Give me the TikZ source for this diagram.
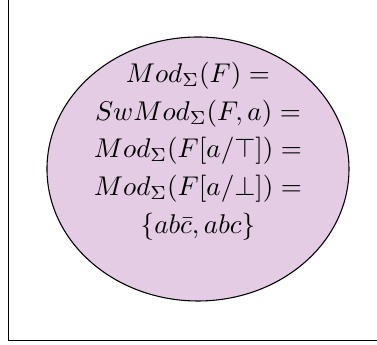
\documentclass[tikz,border=0pt]{standalone}
\usetikzlibrary{shapes.geometric,positioning}
\usepackage{amsmath,amssymb}

\begin{document}
\begin{tikzpicture}[
    frame/.style={draw, line width=0.4pt},
    modelset/.style={draw, ellipse, fill=violet!20, inner sep=0pt,
                     minimum width=3.917cm, minimum height=3.424cm},
    eqs/.style={align=center, inner sep=0pt}]

  %% Page
  \clip (0,0) rectangle (4.89,4.462);
  \draw[frame] (0.110,0.045) rectangle (6,6);

  %% Set of models
  \node[modelset] (models) at (2.568,2.270) {};
  \node[eqs] (modeq) at ([yshift=0.233cm]models.center)
    {$Mod_\Sigma(F) =$\\[1.9pt]
     $SwMod_\Sigma(F,a) =$\\[1.9pt]
     $Mod_\Sigma(F[a/\top]) =$\\[1.9pt]
     $Mod_\Sigma(F[a/\bot]) =$\\[1.9pt]
     $\{ab\bar{c}, abc\}$};
\end{tikzpicture}
\end{document}
